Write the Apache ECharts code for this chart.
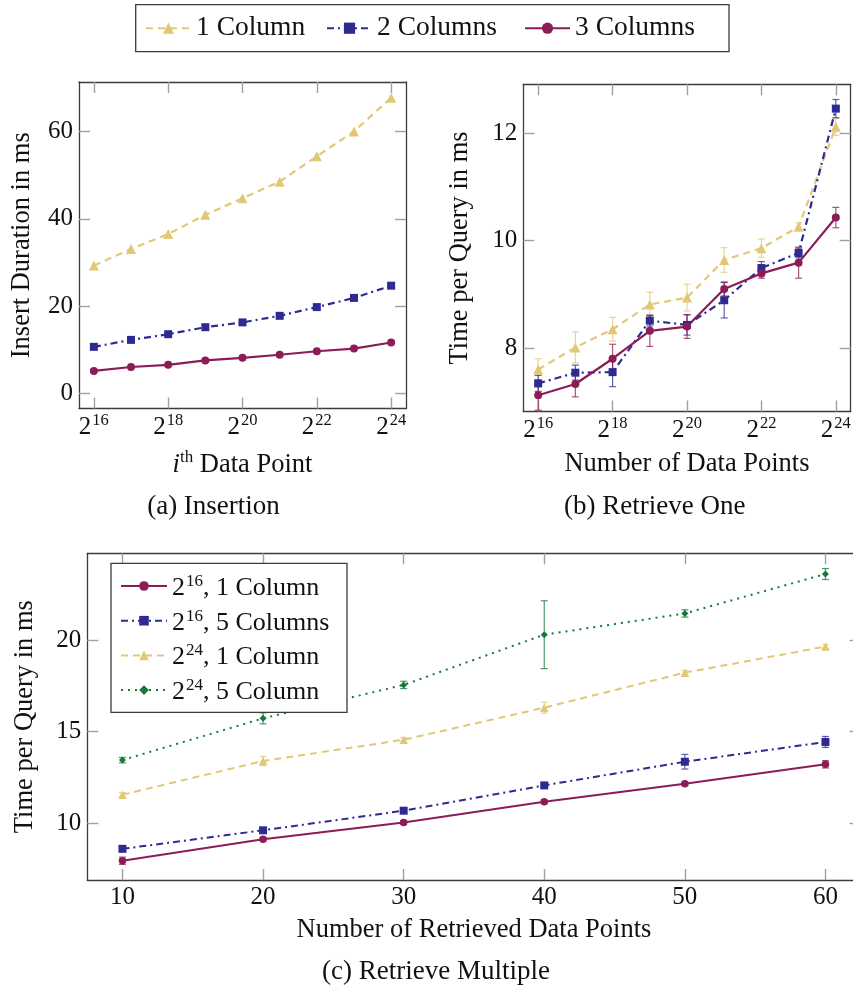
<!DOCTYPE html>
<html><head><meta charset="utf-8">
<script src="https://cdn.jsdelivr.net/npm/echarts@6/dist/echarts.min.js"></script>
<style>html,body{margin:0;padding:0;background:#fff}#c{width:853px;height:989px}</style>
</head><body><div id="c"></div><script>
const FONT = '"Liberation Serif", "DejaVu Serif", serif';

// ---- Panel (a) Insertion: x = log2(i-th data point)
const exps = [16, 17, 18, 19, 20, 21, 22, 23, 24];
const insert1 = [29.3, 33.1, 36.5, 40.9, 44.7, 48.5, 54.3, 60.0, 67.7];
const insert2 = [10.7, 12.3, 13.6, 15.2, 16.3, 17.8, 19.8, 21.9, 24.7];
const insert3 = [5.2, 6.1, 6.6, 7.6, 8.2, 8.9, 9.7, 10.3, 11.7];

// ---- Panel (b) Retrieve One
const one1 = [7.60, 8.01, 8.35, 8.81, 8.94, 9.64, 9.86, 10.26, 12.12];
const one1Err = [0.20, 0.29, 0.22, 0.23, 0.25, 0.23, 0.17, 0.07, 0.16];
const one2 = [7.34, 7.54, 7.55, 8.51, 8.43, 8.89, 9.49, 9.77, 12.46];
const one2Err = [0.15, 0.14, 0.27, 0.10, 0.19, 0.33, 0.12, 0.09, 0.17];
const one3 = [7.12, 7.33, 7.80, 8.32, 8.40, 9.10, 9.39, 9.59, 10.43];
const one3Err = [0.28, 0.24, 0.27, 0.29, 0.22, 0.13, 0.09, 0.29, 0.19];

// ---- Panel (c) Retrieve Multiple
const retrieved = [10, 20, 30, 40, 50, 60];
const m16c1 = [7.96, 9.13, 10.05, 11.18, 12.16, 13.22];
const m16c1Err = [0.20, 0.10, 0.10, 0.10, 0.10, 0.20];
const m16c5 = [8.61, 9.62, 10.69, 12.07, 13.36, 14.44];
const m16c5Err = [0.10, 0.10, 0.10, 0.10, 0.40, 0.30];
const m24c1 = [11.56, 13.40, 14.56, 16.31, 18.22, 19.64];
const m24c1Err = [0.12, 0.25, 0.12, 0.30, 0.12, 0.12];
const m24c5 = [13.45, 15.73, 17.55, 20.29, 21.45, 23.60];
const m24c5Err = [0.15, 0.30, 0.20, 1.85, 0.20, 0.30];

// ---- tick values
const expTicks = [16, 18, 20, 22, 24];
const yTicksA = [0, 20, 40, 60];
const yTicksB = [8, 10, 12];
const xTicksC = [10, 20, 30, 40, 50, 60];
const yTicksC = [10, 15, 20];

// ---- names
const namesTop = ['1 Column', '2 Columns', '3 Columns'];
const namesC = ['2^16, 1 Column', '2^16, 5 Columns', '2^24, 1 Column', '2^24, 5 Column'];

const YEL = '#e2c874', BLU = '#2f2a91', RED = '#8c1c55', GRN = '#137a3c';
const TXT = '#111';
const TICK = '#a0a0a0';
const BOX = '#3c3c3c';
const TF = 25;   // tick font
const NF = 26.5; // axis name font

const zip = (xs, ys) => xs.map((x, i) => [x, ys[i]]);
const zip3 = (xs, ys, es) => xs.map((x, i) => [x, ys[i], es[i]]);

const supRich = {
  b: { fontFamily: FONT, fontSize: TF, color: TXT, lineHeight: 28, verticalAlign: 'bottom' },
  s: { fontFamily: FONT, fontSize: 16.5, color: TXT, lineHeight: 16, verticalAlign: 'top', padding: [1, 0, 0, 1] }
};

function boxAxes(gridIndex, min, max, ticks, isX, labelled, extra) {
  return {
    type: 'value', gridIndex, min, max,
    position: isX ? (labelled ? 'bottom' : 'top') : (labelled ? 'left' : 'right'),
    axisLine: { show: true, onZero: false, lineStyle: { color: BOX, width: 1.3 } },
    axisTick: { show: true, inside: true, length: 11, customValues: ticks, lineStyle: { color: TICK, width: 1.4 } },
    splitLine: { show: false },
    axisLabel: labelled ? Object.assign({ show: true, customValues: ticks, color: TXT, fontFamily: FONT, fontSize: TF }, extra || {}) : { show: false }
  };
}

function errSeries(name, xIdx, yIdx, data, color) {
  return {
    type: 'custom', name: name, xAxisIndex: xIdx, yAxisIndex: yIdx, z: 1, silent: true,
    encode: { x: 0, y: 1 },
    data: data,
    renderItem: function (params, api) {
      const x = api.value(0), y = api.value(1), e = api.value(2);
      const t = api.coord([x, y + e]), b = api.coord([x, y - e]);
      const w = 3.5;
      const st = { stroke: color, lineWidth: 1.2, opacity: 0.75 };
      return {
        type: 'group', children: [
          { type: 'line', shape: { x1: t[0], y1: t[1], x2: b[0], y2: b[1] }, style: st },
          { type: 'line', shape: { x1: t[0] - w, y1: t[1], x2: t[0] + w, y2: t[1] }, style: st },
          { type: 'line', shape: { x1: b[0] - w, y1: b[1], x2: b[0] + w, y2: b[1] }, style: st }
        ]
      };
    }
  };
}

function lineSeries(name, xIdx, yIdx, data, color, dash, symbol, size, width) {
  return {
    type: 'line', name, xAxisIndex: xIdx, yAxisIndex: yIdx, data, z: 3,
    symbol, symbolSize: size, showSymbol: true,
    lineStyle: { color, width: width || 2, type: dash, cap: 'butt' },
    itemStyle: { color },
    emphasis: { disabled: true },
    animation: false
  };
}

const expLabel = { formatter: v => '{b|2}{s|' + v + '}', rich: supRich, margin: 3 };

const DASH = [7, 5], DASHDOT = [7, 4, 2, 4], DOT = [2, 5];

const option = {
  animation: false,
  backgroundColor: '#fff',
  grid: [
    { left: 79, top: 82, width: 327, height: 326.5, outerBoundsMode: 'none' },
    { left: 523.3, top: 84.3, width: 327.4, height: 327.2, outerBoundsMode: 'none' },
    { left: 87.3, top: 553.3, width: 773.3, height: 326.7, outerBoundsMode: 'none' }
  ],
  xAxis: [
    Object.assign(boxAxes(0, 15.6, 24.4, expTicks, true, true, expLabel), {
      name: '{it|i}{s|th}{n| Data Point}', nameLocation: 'middle', nameGap: 41,
      nameTextStyle: { rich: {
        it: { fontFamily: FONT, fontSize: NF, fontStyle: 'italic', color: TXT, lineHeight: 29, verticalAlign: 'bottom' },
        s: { fontFamily: FONT, fontSize: 17, color: TXT, lineHeight: 17, verticalAlign: 'top' },
        n: { fontFamily: FONT, fontSize: NF, color: TXT, lineHeight: 29, verticalAlign: 'bottom' } } }
    }),
    boxAxes(0, 15.6, 24.4, expTicks, true, false),
    Object.assign(boxAxes(1, 15.6, 24.4, expTicks, true, true, expLabel), {
      name: 'Number of Data Points', nameLocation: 'middle', nameGap: 39,
      nameTextStyle: { fontFamily: FONT, fontSize: NF, color: TXT }
    }),
    boxAxes(1, 15.6, 24.4, expTicks, true, false),
    Object.assign(boxAxes(2, 7.5, 62.5, xTicksC, true, true, { margin: 5 }), {
      name: 'Number of Retrieved Data Points', nameLocation: 'middle', nameGap: 37,
      nameTextStyle: { fontFamily: FONT, fontSize: NF, color: TXT }
    }),
    boxAxes(2, 7.5, 62.5, xTicksC, true, false)
  ],
  yAxis: [
    Object.assign(boxAxes(0, -3.4, 71.3, yTicksA, false, true, { margin: 6 }), {
      name: 'Insert Duration in ms', nameLocation: 'middle', nameGap: 43,
      nameTextStyle: { fontFamily: FONT, fontSize: NF, color: TXT }
    }),
    boxAxes(0, -3.4, 71.3, yTicksA, false, false),
    Object.assign(boxAxes(1, 6.817, 12.913, yTicksB, false, true, { margin: 6 }), {
      name: 'Time per Query in ms', nameLocation: 'middle', nameGap: 50,
      nameTextStyle: { fontFamily: FONT, fontSize: NF, color: TXT }
    }),
    boxAxes(1, 6.817, 12.913, yTicksB, false, false),
    Object.assign(boxAxes(2, 6.91, 24.73, yTicksC, false, true, { margin: 6 }), {
      name: 'Time per Query in ms', nameLocation: 'middle', nameGap: 49,
      nameTextStyle: { fontFamily: FONT, fontSize: NF, color: TXT }
    }),
    boxAxes(2, 6.91, 24.73, yTicksC, false, false)
  ],
  legend: [
    {
      data: [
        { name: namesTop[0], textStyle: { width: 124 } },
        { name: namesTop[1], textStyle: { width: 141 } },
        { name: namesTop[2], textStyle: { width: 137 } }
      ],
      orient: 'horizontal', left: 135.7, top: 4.7,
      itemWidth: 45, itemHeight: 14, itemGap: 6,
      padding: [8.5, 17, 8.5, 9.3],
      borderColor: BOX, borderWidth: 1.3, borderRadius: 0, backgroundColor: '#fff',
      selectedMode: false,
      textStyle: { fontFamily: FONT, fontSize: 27.5, color: TXT, lineHeight: 30 }
    },
    {
      data: namesC.map(n => ({ name: n })),
      orient: 'vertical', left: 111, top: 563.3,
      itemWidth: 46, itemHeight: 12, itemGap: 4.7,
      padding: [7.7, 13, 7.3, 9],
      borderColor: BOX, borderWidth: 1.3, borderRadius: 0, backgroundColor: '#fff',
      selectedMode: false, z: 10,
      formatter: function (name) {
        const m = name.match(/^2\^(\d+)(.*)$/);
        return '{b|2}{s|' + m[1] + '}{t|' + m[2] + '}';
      },
      textStyle: {
        fontFamily: FONT, fontSize: 26, color: TXT, lineHeight: 30, width: 162,
        rich: {
          b: { fontFamily: FONT, fontSize: 26, color: TXT, lineHeight: 30, verticalAlign: 'bottom' },
          s: { fontFamily: FONT, fontSize: 17, color: TXT, lineHeight: 17, verticalAlign: 'top', padding: [2, 0, 0, 1] },
          t: { fontFamily: FONT, fontSize: 26, color: TXT, lineHeight: 30, verticalAlign: 'bottom' }
        }
      }
    }
  ],
  graphic: [
    { type: 'text', x: 213.5, y: 507, style: { text: '(a) Insertion', font: '27px ' + FONT, fill: TXT, textAlign: 'center', textVerticalAlign: 'middle', align: 'center', verticalAlign: 'middle' } },
    { type: 'text', x: 654.7, y: 507, style: { text: '(b) Retrieve One', font: '27px ' + FONT, fill: TXT, textAlign: 'center', textVerticalAlign: 'middle', align: 'center', verticalAlign: 'middle' } },
    { type: 'text', x: 436, y: 972, style: { text: '(c) Retrieve Multiple', font: '27px ' + FONT, fill: TXT, textAlign: 'center', textVerticalAlign: 'middle', align: 'center', verticalAlign: 'middle' } }
  ],
  series: [
    // panel a
    lineSeries(namesTop[0], 0, 0, zip(exps, insert1), YEL, DASH, 'triangle', 10, 2.2),
    lineSeries(namesTop[1], 0, 0, zip(exps, insert2), BLU, DASHDOT, 'rect', 8, 2.2),
    lineSeries(namesTop[2], 0, 0, zip(exps, insert3), RED, 'solid', 'circle', 8, 2.2),
    // panel b
    errSeries('e_b1', 2, 2, zip3(exps, one1, one1Err), YEL),
    errSeries('e_b2', 2, 2, zip3(exps, one2, one2Err), BLU),
    errSeries('e_b3', 2, 2, zip3(exps, one3, one3Err), RED),
    lineSeries(namesTop[0], 2, 2, zip(exps, one1), YEL, DASH, 'triangle', 10, 2.2),
    lineSeries(namesTop[1], 2, 2, zip(exps, one2), BLU, DASHDOT, 'rect', 8, 2.2),
    lineSeries(namesTop[2], 2, 2, zip(exps, one3), RED, 'solid', 'circle', 8, 2.2),
    // panel c
    errSeries('e_c1', 4, 4, zip3(retrieved, m16c1, m16c1Err), RED),
    errSeries('e_c2', 4, 4, zip3(retrieved, m16c5, m16c5Err), BLU),
    errSeries('e_c3', 4, 4, zip3(retrieved, m24c1, m24c1Err), YEL),
    errSeries('e_c4', 4, 4, zip3(retrieved, m24c5, m24c5Err), GRN),
    lineSeries(namesC[0], 4, 4, zip(retrieved, m16c1), RED, 'solid', 'circle', 7.5, 2),
    lineSeries(namesC[1], 4, 4, zip(retrieved, m16c5), BLU, DASHDOT, 'rect', 8, 2),
    lineSeries(namesC[2], 4, 4, zip(retrieved, m24c1), YEL, DASH, 'triangle', 8.5, 2),
    lineSeries(namesC[3], 4, 4, zip(retrieved, m24c5), GRN, DOT, 'diamond', 7, 2)
  ]
};

const chart = echarts.init(document.getElementById('c'), null, { renderer: 'canvas' });
chart.setOption(option);
</script></body></html>
